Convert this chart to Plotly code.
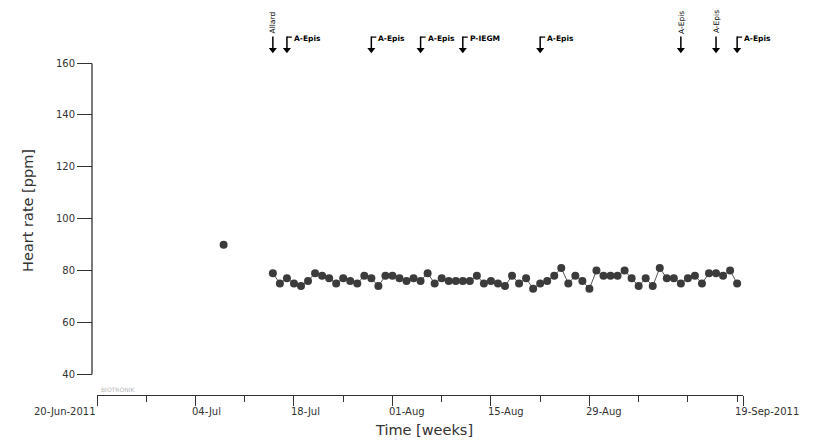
import pandas as pd
import plotly.graph_objects as go

# ---------------- data ----------------
series_start = "2011-07-15"
series_end = "2011-09-19"
heart_rate = [79, 75, 77, 75, 74, 76, 79, 78, 77, 75, 77, 76, 75, 78, 77, 74, 78, 78, 77, 76,
              77, 76, 79, 75, 77, 76, 76, 76, 76, 78, 75, 76, 75, 74, 78, 75, 77, 73, 75, 76,
              78, 81, 75, 78, 76, 73, 80, 78, 78, 78, 80, 77, 74, 77, 74, 81, 77, 77, 75, 77,
              78, 75, 79, 79, 78, 80, 75]
single_date = ["2011-07-08"]
single_value = [90]

event_dates = ["2011-07-15", "2011-07-17", "2011-07-29", "2011-08-05", "2011-08-11",
               "2011-08-22", "2011-09-11", "2011-09-16", "2011-09-19"]
event_labels = ["Allard", "A-Epis", "A-Epis", "A-Epis", "P-IEGM",
                "A-Epis", "A-Epis", "A-Epis", "A-Epis"]
event_rotated = [True, False, False, False, False, False, True, True, False]

x_start = "2011-06-20"
x_end = "2011-09-19 20:00"
major_ticks = ["2011-06-20", "2011-07-04", "2011-07-18", "2011-08-01", "2011-08-15", "2011-08-29", x_end]
major_labels = ["20-Jun-2011", "04-Jul", "18-Jul", "01-Aug", "15-Aug", "29-Aug", "19-Sep-2011"]
minor_ticks = ["2011-06-27", "2011-07-11", "2011-07-25", "2011-08-08", "2011-08-22",
               "2011-09-05", "2011-09-12", "2011-09-19"]
y_ticks = [40, 60, 80, 100, 120, 140, 160]

# ---------------- figure ----------------
dates = pd.date_range(series_start, series_end, freq="D")
W, H = 825, 445
L, R, T, B = 92, 82, 2, 50
plot_w = W - L - R
plot_h = H - T - B
main_top = (395 - 58) / plot_h
ink = "#333333"
dot = "#3b3b3b"
font = "DejaVu Sans"

fig = go.Figure()
fig.add_trace(go.Scatter(x=single_date, y=single_value, mode="markers",
                         marker=dict(size=8, color=dot), cliponaxis=False, showlegend=False))
fig.add_trace(go.Scatter(x=dates, y=heart_rate, mode="lines+markers",
                         line=dict(color="#555555", width=1),
                         marker=dict(size=8, color=dot), cliponaxis=False, showlegend=False))

# event arrows on an overlay axis above the plot (pixel-like units)
ev = pd.to_datetime(event_dates)
lx, ly, bx, by = [], [], [], []
for d, rot in zip(ev, event_rotated):
    lx += [d, d, None]
    ly += [31, 43, None]
    if not rot:
        bx += [d, d + pd.Timedelta(hours=17), None]
        by += [31.5, 31.5, None]
fig.add_trace(go.Scatter(x=lx, y=ly, yaxis="y2", mode="lines", line=dict(color="black", width=1.5),
                         cliponaxis=False, showlegend=False, hoverinfo="skip"))
fig.add_trace(go.Scatter(x=bx, y=by, yaxis="y2", mode="lines", line=dict(color="black", width=1.2),
                         cliponaxis=False, showlegend=False, hoverinfo="skip"))
fig.add_trace(go.Scatter(x=list(ev), y=[44.5] * len(ev), yaxis="y2", mode="markers",
                         marker=dict(symbol="triangle-down", size=7, color="black"),
                         cliponaxis=False, showlegend=False, hoverinfo="skip"))

ann = []
for d, lab, rot in zip(ev, event_labels, event_rotated):
    if rot:
        ann.append(dict(x=d, y=30, xref="x", yref="y2", text=lab, showarrow=False, textangle=-90,
                        xanchor="center", yanchor="bottom",
                        font=dict(family=font, size=7.5, color="black")))
    else:
        ann.append(dict(x=d, y=33, xref="x", yref="y2", text="<b>%s</b>" % lab, showarrow=False,
                        xanchor="left", yanchor="middle", xshift=5,
                        font=dict(family=font, size=7.5, color="black")))

# x tick labels
for i, (tv, tl) in enumerate(zip(major_ticks, major_labels)):
    if i == 0:
        ann.append(dict(x=tv, y=0, xref="x", yref="paper", text=tl, showarrow=False,
                        xanchor="right", yanchor="middle", yshift=-16, xshift=1,
                        font=dict(family=font, size=10, color=ink)))
    elif i == len(major_ticks) - 1:
        ann.append(dict(x=minor_ticks[-1], y=0, xref="x", yref="paper", text=tl, showarrow=False,
                        xanchor="left", yanchor="middle", yshift=-16, xshift=-4,
                        font=dict(family=font, size=10, color=ink)))
    else:
        ann.append(dict(x=tv, y=0, xref="x", yref="paper", text=tl, showarrow=False,
                        xanchor="left", yanchor="middle", yshift=-16, xshift=-5,
                        font=dict(family=font, size=10, color=ink)))

ann.append(dict(x=(424 - L) / plot_w, y=0, xref="paper", yref="paper", text="Time [weeks]",
                showarrow=False, xanchor="center", yanchor="middle", yshift=-35,
                font=dict(family=font, size=14.5, color=ink)))
ann.append(dict(x=(28 - L) / plot_w, y=103, xref="paper", yref="y", text="Heart rate [ppm]",
                showarrow=False, textangle=-90, xanchor="center", yanchor="middle",
                font=dict(family=font, size=14.5, color=ink)))
ann.append(dict(x=x_start, y=0, xref="x", yref="paper", text="BIOTRONIK", showarrow=False,
                xanchor="left", yanchor="middle", yshift=6, xshift=2,
                font=dict(family=font, size=6, color="#b5b5b5")))

fig.update_layout(
    width=W, height=H, margin=dict(l=L, r=R, t=T, b=B),
    paper_bgcolor="white", plot_bgcolor="white",
    xaxis=dict(type="date", range=[x_start, x_end], domain=[5 / plot_w, 1], anchor="y",
               showgrid=False, zeroline=False, showline=True, linecolor=ink, linewidth=1.3,
               tickmode="array", tickvals=major_ticks, showticklabels=False,
               ticks="outside", ticklen=10, tickwidth=1.3, tickcolor=ink,
               minor=dict(tickmode="array", tickvals=minor_ticks, ticks="outside", ticklen=6,
                          tickwidth=1.2, tickcolor=ink)),
    yaxis=dict(range=[32, 160], domain=[0, main_top], anchor="free", position=0,
               showgrid=False, zeroline=False, showline=False,
               tickmode="array", tickvals=y_ticks, ticks="outside", ticklen=15, tickwidth=1.3,
               tickcolor=ink, tickfont=dict(family=font, size=10, color=ink)),
    yaxis2=dict(range=[58, 2], domain=[main_top, 1], anchor="x", visible=False, showgrid=False),
    annotations=ann,
    shapes=[dict(type="line", xref="paper", yref="y", x0=0, x1=0, y0=40, y1=160,
                 line=dict(color=ink, width=1.3))],
)

fig.write_html("out.html")
